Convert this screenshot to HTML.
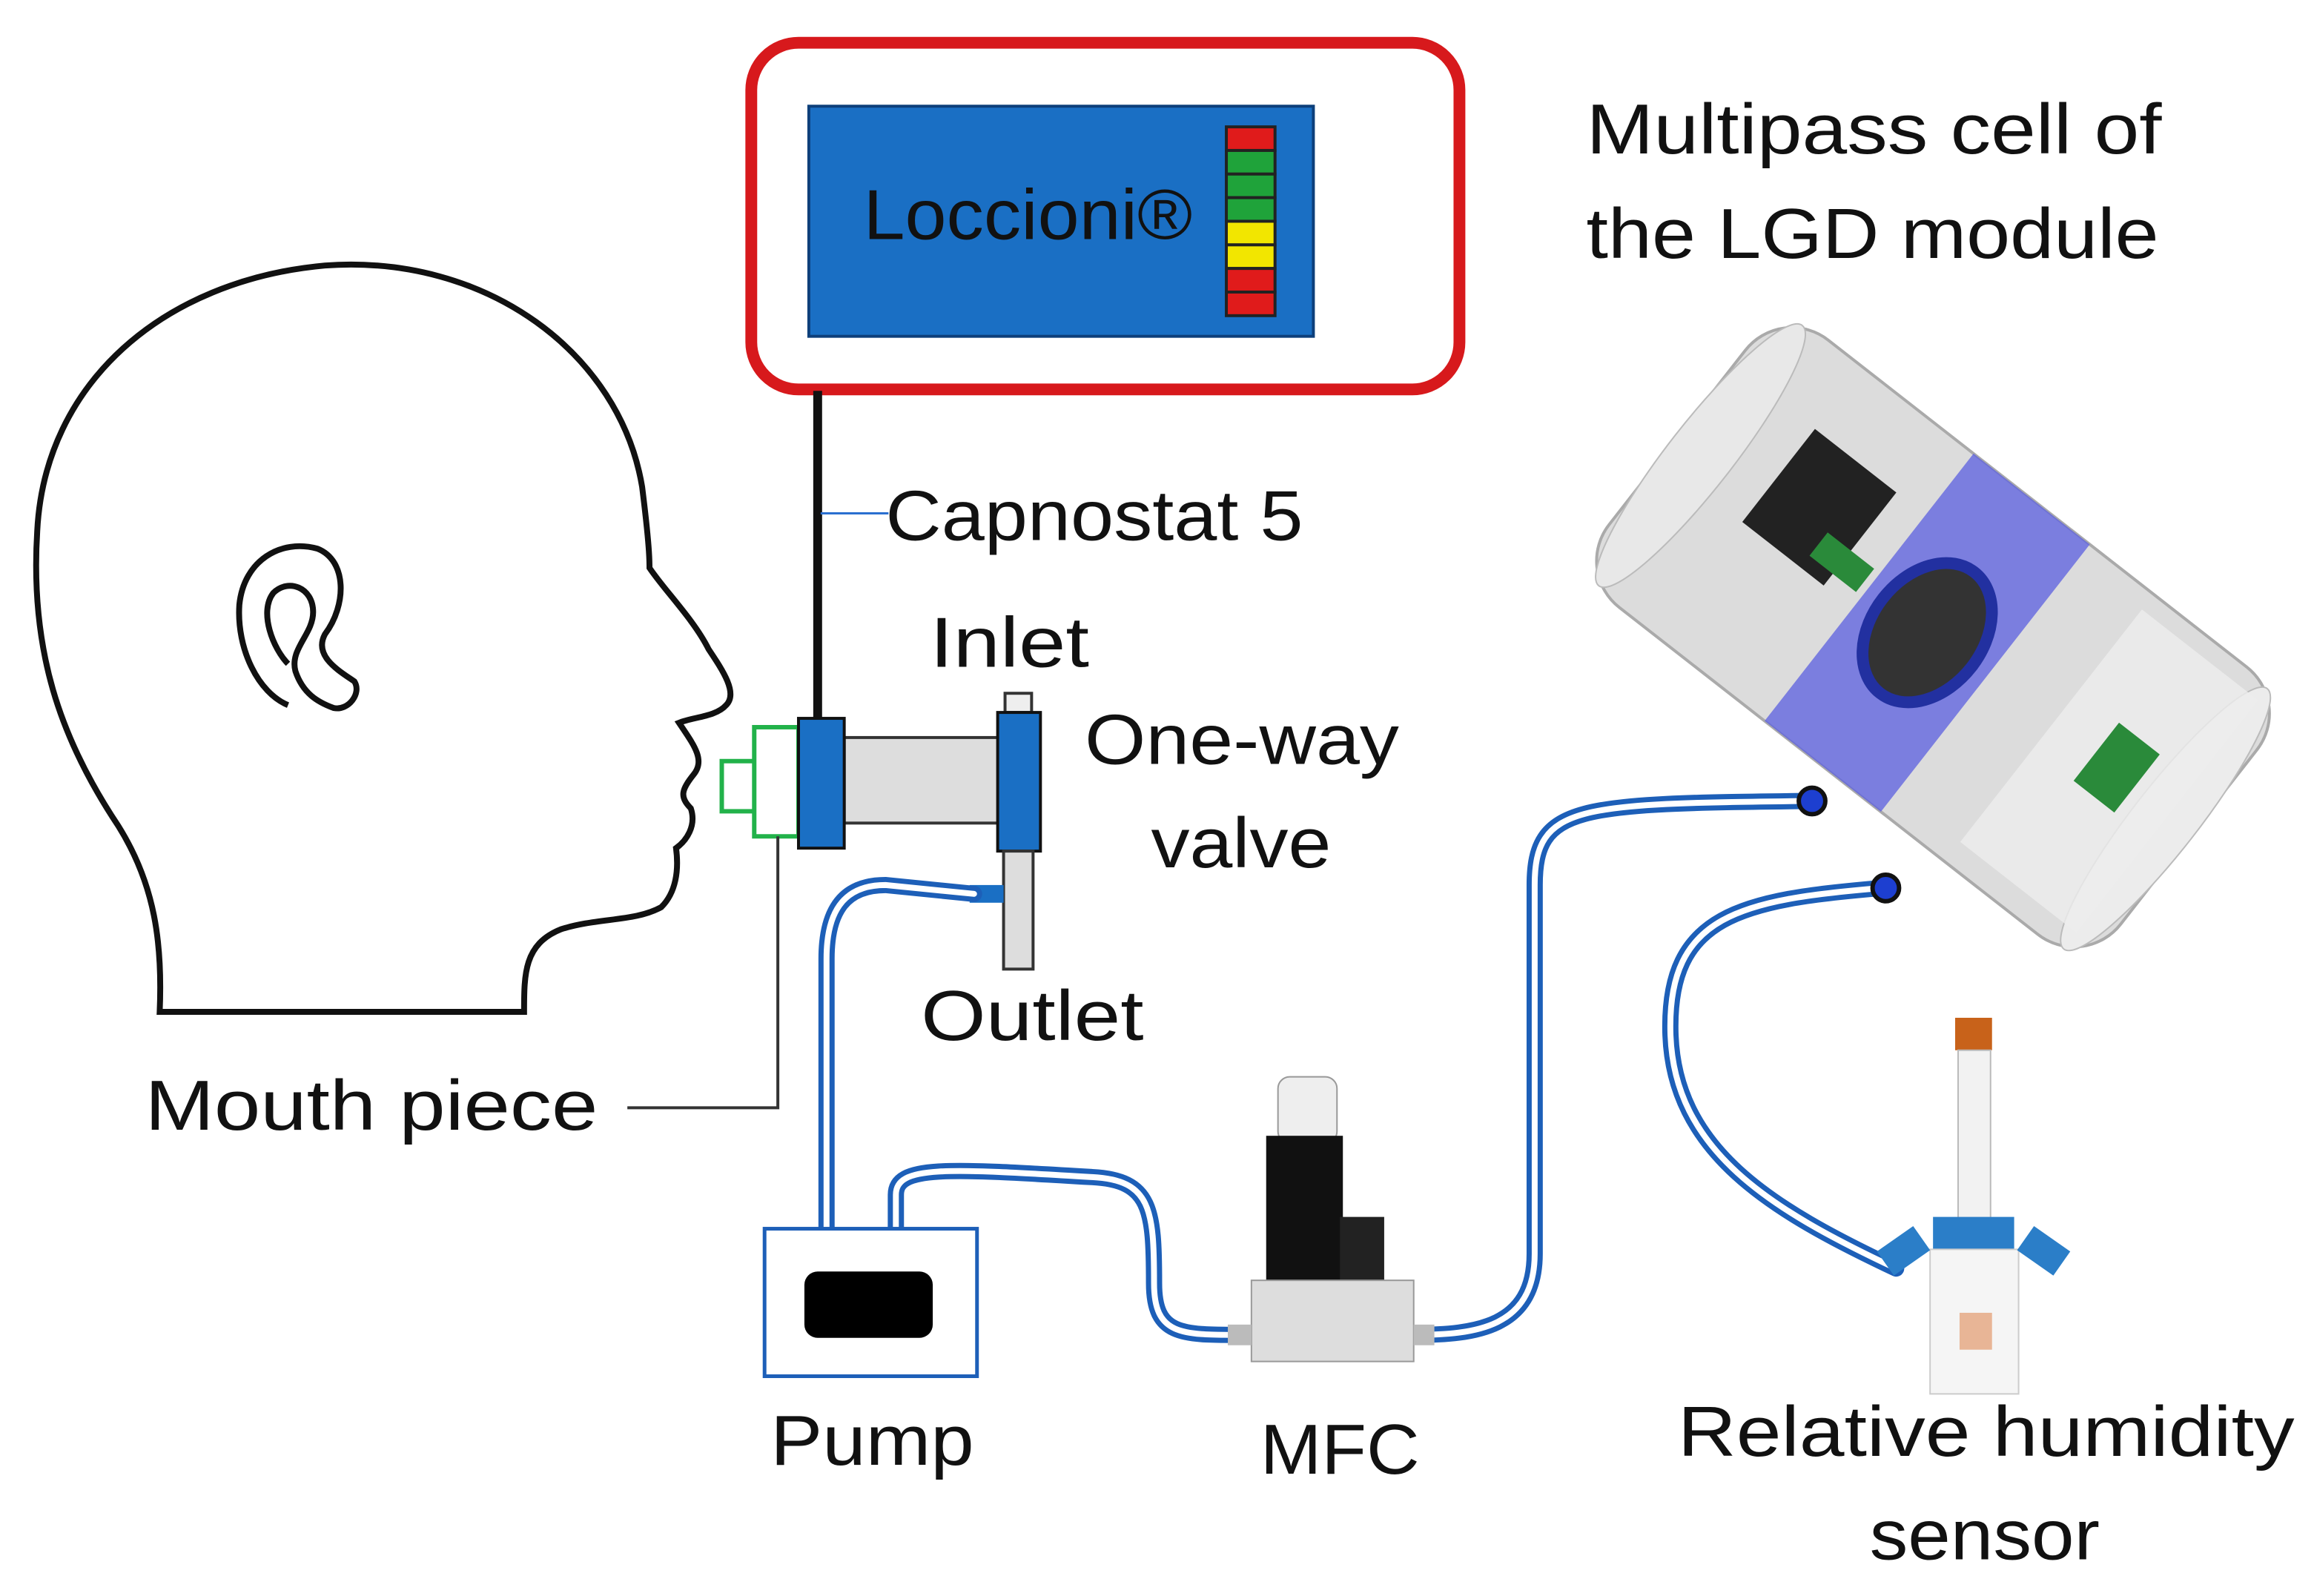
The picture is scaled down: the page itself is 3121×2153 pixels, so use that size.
<!DOCTYPE html>
<html><head><meta charset="utf-8"><style>
html,body{margin:0;padding:0;background:#fff}
svg{display:block}
text{font-family:"Liberation Sans","DejaVu Sans",sans-serif;fill:#111}
</style></head><body>
<svg width="3121" height="2153" viewBox="0 0 1568 1082" xmlns="http://www.w3.org/2000/svg">
<rect width="1568" height="1082" fill="#fff"/>
<rect x="509" y="29" width="480" height="235" rx="32" fill="#fff" stroke="#d7191c" stroke-width="8"/>
<rect x="548" y="72" width="342" height="156" fill="#1a6fc4" stroke="#0d3f7a" stroke-width="2"/>
<text x="585" y="162" font-size="48" textLength="223" lengthAdjust="spacingAndGlyphs">Loccioni®</text>
<g stroke="#222" stroke-width="2">
<rect x="831" y="86" width="33" height="16" fill="#e01b1b"/>
<rect x="831" y="102" width="33" height="16" fill="#1fa33a"/>
<rect x="831" y="118" width="33" height="16" fill="#1fa33a"/>
<rect x="831" y="134" width="33" height="16" fill="#1fa33a"/>
<rect x="831" y="150" width="33" height="16" fill="#f2e600"/>
<rect x="831" y="166" width="33" height="16" fill="#f2e600"/>
<rect x="831" y="182" width="33" height="16" fill="#e01b1b"/>
<rect x="831" y="198" width="33" height="16" fill="#e01b1b"/>
</g>
<line x1="554" y1="265" x2="554" y2="490" stroke="#111" stroke-width="6"/>
<line x1="556" y1="348" x2="602" y2="348" stroke="#2a6fd0" stroke-width="1.5"/>
<path d="M108 686 C110 640 105 600 80 560 C40 500 20 440 25 360 C30 260 110 190 220 180 C330 172 420 240 435 330 C440 370 440 380 440 385 C450 400 470 420 480 440 C490 455 500 470 492 478 C485 486 470 486 460 490 C470 505 478 515 470 525 C462 535 460 540 468 548 C472 560 465 570 458 575 C460 590 458 605 448 615 C430 625 405 622 380 630 C355 640 355 660 355 686 Z" fill="#fff" stroke="#111" stroke-width="4"/>
<path d="M195 478 C175 470 160 440 162 410 C165 380 190 365 215 372 C235 380 235 410 220 430 C212 445 230 455 240 462 C245 470 236 482 226 480 C215 476 205 470 200 455 C196 440 212 430 212 415 C212 398 195 392 185 402 C175 415 185 440 195 450" fill="none" stroke="#111" stroke-width="4"/>
<rect x="489" y="516" width="24" height="34" fill="#fff" stroke="#22b24a" stroke-width="3"/>
<rect x="511" y="493" width="30" height="74" fill="#fff" stroke="#22b24a" stroke-width="3"/>
<rect x="572" y="500" width="105" height="58" fill="#ddd" stroke="#333" stroke-width="2"/>
<rect x="541" y="487" width="31" height="88" fill="#1a6fc4" stroke="#111" stroke-width="2"/>
<rect x="681" y="470" width="18" height="13" fill="#eee" stroke="#333" stroke-width="2"/>
<rect x="676" y="483" width="29" height="94" fill="#1a6fc4" stroke="#111" stroke-width="2"/>
<rect x="680" y="577" width="20" height="80" fill="#ddd" stroke="#333" stroke-width="2"/>
<rect x="657" y="600" width="23" height="12" fill="#1a6fc4"/>
<polyline points="425,751 527,751 527,567" fill="none" stroke="#333" stroke-width="2"/>
<g fill="none" stroke-linecap="round">
<g stroke="#1d5fb8" stroke-width="11">
<path d="M660 606 L600 600 C570 600 560 620 560 650 L560 835"/>
<path d="M607 833 L607 810 C607 790 640 792 740 798 C780 800 782 820 782 870 C782 905 800 905 840 905"/>
<path d="M958 905 C1000 905 1040 900 1040 850 L1040 600 C1040 545 1070 545 1225 543"/>
<path d="M1275 602 C1180 610 1130 620 1132 700 C1134 780 1200 820 1285 860"/>
</g>
<g stroke="#fff" stroke-width="4">
<path d="M660 606 L600 600 C570 600 560 620 560 650 L560 835"/>
<path d="M607 833 L607 810 C607 790 640 792 740 798 C780 800 782 820 782 870 C782 905 800 905 840 905"/>
<path d="M958 905 C1000 905 1040 900 1040 850 L1040 600 C1040 545 1070 545 1225 543"/>
<path d="M1275 602 C1180 610 1130 620 1132 700 C1134 780 1200 820 1285 860"/>
</g>
</g>
<rect x="518" y="833" width="144" height="100" fill="#fff" stroke="#1d5fb8" stroke-width="2.5"/>
<rect x="545" y="862" width="87" height="45" rx="9" fill="#000"/>
<rect x="866" y="730" width="40" height="45" rx="8" fill="#eee" stroke="#999"/>
<rect x="858" y="770" width="52" height="100" fill="#111"/>
<rect x="908" y="825" width="30" height="50" fill="#222"/>
<rect x="848" y="868" width="110" height="55" fill="#ddd" stroke="#999"/>
<rect x="832" y="898" width="16" height="14" fill="#bbb"/>
<rect x="958" y="898" width="14" height="14" fill="#bbb"/>
<!-- multipass cell -->
<g transform="rotate(38 1310 432)">
<rect x="1090" y="317" width="440" height="230" rx="40" fill="#dcdcdc" stroke="#aaa" stroke-width="2"/>
<ellipse cx="1110" cy="432" rx="22" ry="112" fill="#e8e8e8" stroke="#bbb"/>
<rect x="1255" y="317" width="100" height="230" fill="#5b5fe0" opacity="0.75"/>
<ellipse cx="1305" cy="432" rx="38" ry="52" fill="#333" stroke="#2230a0" stroke-width="8"/>
<rect x="1160" y="370" width="70" height="80" fill="#222"/>
<rect x="1210" y="420" width="40" height="20" fill="#2a8a3a"/>
<ellipse cx="1510" cy="432" rx="22" ry="112" fill="#ececec" stroke="#bbb"/>
<rect x="1410" y="330" width="100" height="200" fill="#eee" opacity="0.8"/>
<rect x="1445" y="400" width="35" height="50" fill="#2a8a3a"/>
</g>
<circle cx="1228" cy="543" r="9" fill="#1d3fd0" stroke="#111" stroke-width="3"/>
<circle cx="1278" cy="602" r="9" fill="#1d3fd0" stroke="#111" stroke-width="3"/>
<rect x="1325" y="690" width="25" height="22" fill="#c8621a"/>
<rect x="1327" y="712" width="22" height="130" fill="#f2f2f2" stroke="#bbb"/>
<rect x="1310" y="825" width="55" height="22" fill="#2b7ec8"/>
<path d="M1308 847 L1368 847 L1368 945 L1308 945 Z" fill="#f5f5f5" stroke="#ccc"/>
<rect x="1328" y="890" width="22" height="25" fill="#e8b596"/>
<rect x="1275" y="838" width="30" height="20" fill="#2b7ec8" transform="rotate(-35 1290 848)"/>
<rect x="1370" y="838" width="30" height="20" fill="#2b7ec8" transform="rotate(35 1385 848)"/>
<g font-size="48" lengthAdjust="spacingAndGlyphs">
<text x="600" y="366" textLength="283" lengthAdjust="spacingAndGlyphs">Capnostat 5</text>
<text x="630" y="452" textLength="108" lengthAdjust="spacingAndGlyphs">Inlet</text>
<text x="735" y="518" textLength="213" lengthAdjust="spacingAndGlyphs">One-way</text>
<text x="780" y="588" textLength="122" lengthAdjust="spacingAndGlyphs">valve</text>
<text x="624" y="705" textLength="151" lengthAdjust="spacingAndGlyphs">Outlet</text>
<text x="98" y="766" textLength="307" lengthAdjust="spacingAndGlyphs">Mouth piece</text>
<text x="522" y="993" textLength="138" lengthAdjust="spacingAndGlyphs">Pump</text>
<text x="854" y="999" textLength="108" lengthAdjust="spacingAndGlyphs">MFC</text>
<text x="1075" y="104" textLength="390" lengthAdjust="spacingAndGlyphs">Multipass cell of</text>
<text x="1075" y="175" textLength="388" lengthAdjust="spacingAndGlyphs">the LGD module</text>
<text x="1137" y="987" textLength="418" lengthAdjust="spacingAndGlyphs">Relative humidity</text>
<text x="1267" y="1057" textLength="156" lengthAdjust="spacingAndGlyphs">sensor</text>
</g>
</svg>
</body></html>
